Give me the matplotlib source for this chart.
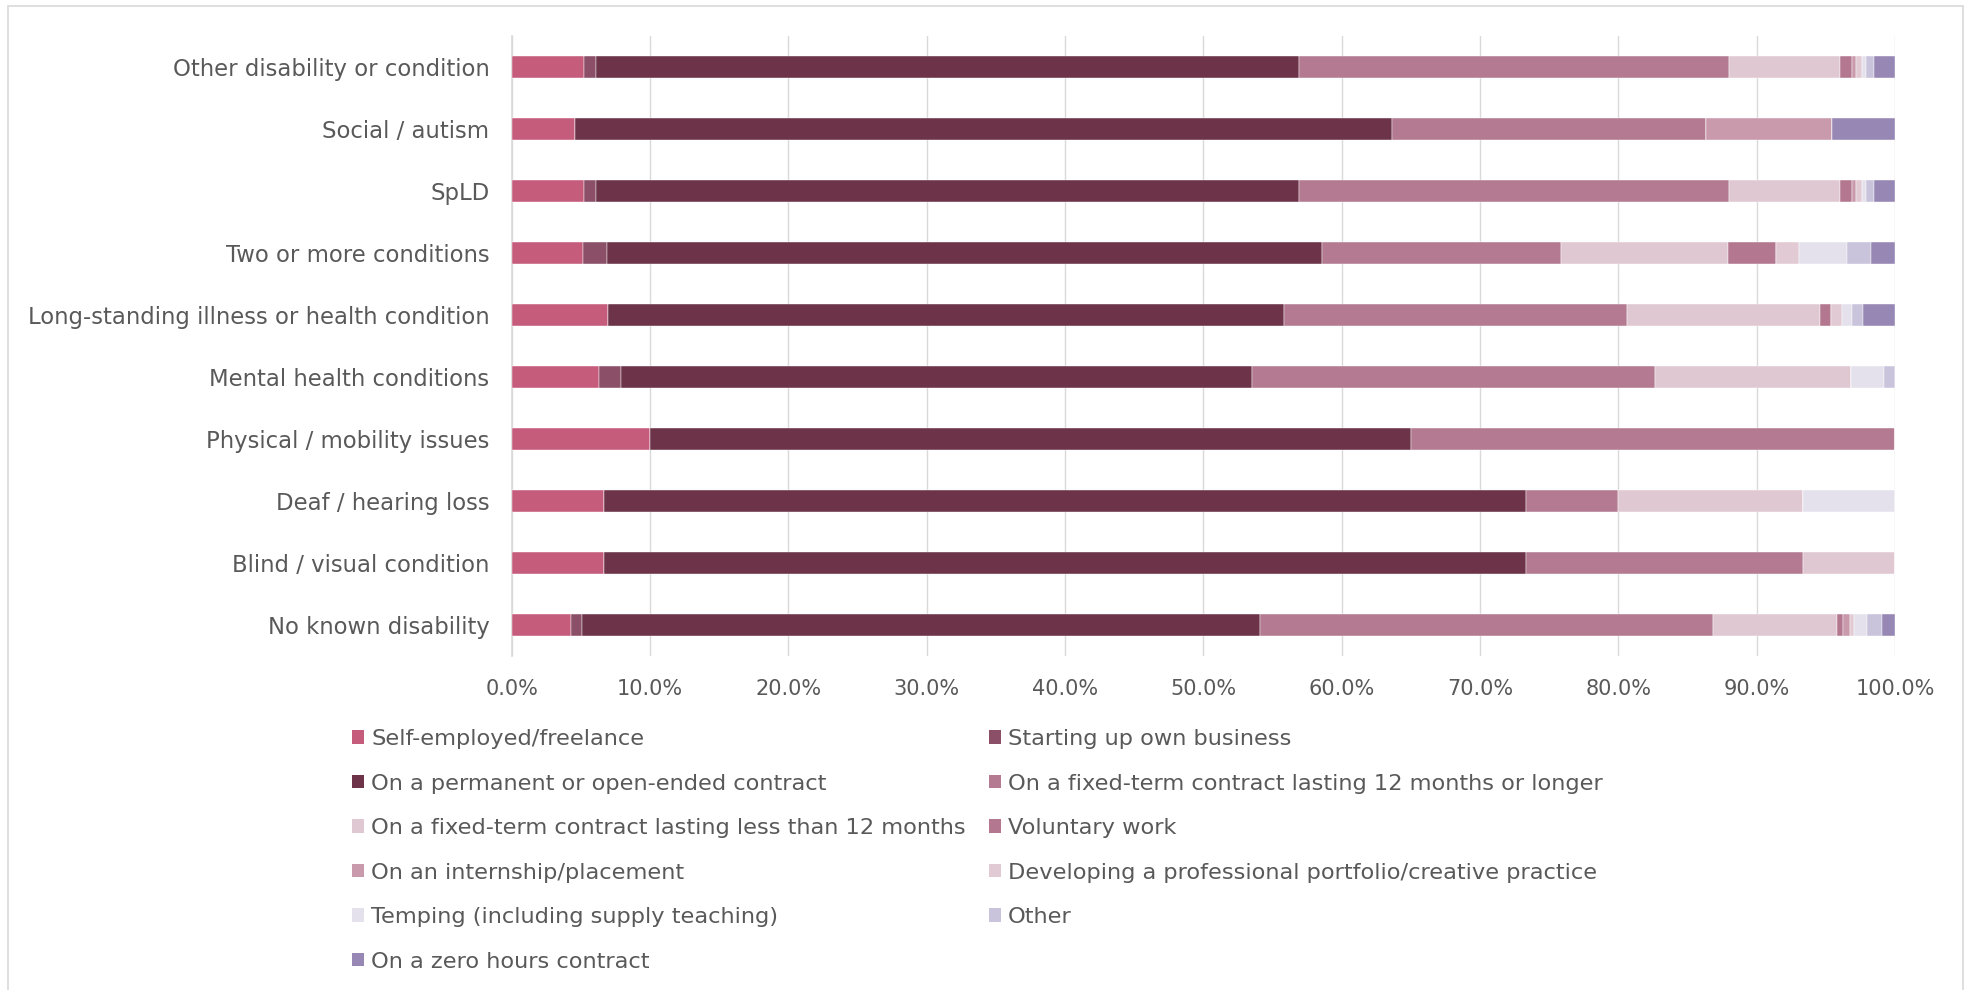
import matplotlib
matplotlib.use("Agg")
import matplotlib.pyplot as plt
from matplotlib.patches import Patch, Rectangle
import numpy as np

plt.rcParams['font.family'] = ['DejaVu Sans']

categories = [
    "Other disability or condition",
    "Social / autism",
    "SpLD",
    "Two or more conditions",
    "Long-standing illness or health condition",
    "Mental health conditions",
    "Physical / mobility issues",
    "Deaf / hearing loss",
    "Blind / visual condition",
    "No known disability",
]

series_names = [
    "Self-employed/freelance",
    "Starting up own business",
    "On a permanent or open-ended contract",
    "On a fixed-term contract lasting 12 months or longer",
    "On a fixed-term contract lasting less than 12 months",
    "Voluntary work",
    "On an internship/placement",
    "Developing a professional portfolio/creative practice",
    "Temping (including supply teaching)",
    "Other",
    "On a zero hours contract",
]

# percentage shares per category (same order as categories)
self_employed = [5.23, 4.55, 5.23, 5.17, 6.98, 6.30, 10.0, 6.67, 6.67, 4.31]
starting_up   = [0.90, 0.0, 0.90, 1.72, 0.0, 1.57, 0.0, 0.0, 0.0, 0.80]
permanent     = [50.77, 59.09, 50.77, 51.72, 48.84, 45.67, 55.0, 66.67, 66.67, 48.95]
fixed_12plus  = [31.10, 22.73, 31.10, 17.24, 24.81, 29.13, 35.0, 6.67, 20.0, 32.75]
fixed_under12 = [8.00, 0.0, 8.00, 12.07, 13.95, 14.17, 0.0, 13.33, 6.67, 9.00]
voluntary     = [0.90, 0.0, 0.90, 3.45, 0.78, 0.0, 0.0, 0.0, 0.0, 0.45]
internship    = [0.30, 9.09, 0.30, 0.0, 0.0, 0.0, 0.0, 0.0, 0.0, 0.50]
portfolio     = [0.40, 0.0, 0.40, 1.72, 0.78, 0.0, 0.0, 0.0, 0.0, 0.30]
temping       = [0.30, 0.0, 0.30, 3.45, 0.78, 2.36, 0.0, 6.67, 0.0, 0.90]
other         = [0.60, 0.0, 0.60, 1.72, 0.78, 0.79, 0.0, 0.0, 0.0, 1.10]
zero_hours    = [1.50, 4.55, 1.50, 1.72, 2.33, 0.0, 0.0, 0.0, 0.0, 0.94]

series_values = [self_employed, starting_up, permanent, fixed_12plus, fixed_under12,
                 voluntary, internship, portfolio, temping, other, zero_hours]

colors = ["#c55c7c", "#8c4f68", "#6c3349", "#b37a91", "#e0c8d2", "#b3788f",
          "#c99aab", "#e2cad4", "#e4e1ec", "#c9c3dc", "#9687b4"]

W, H = 1968, 990
fig = plt.figure(figsize=(W / 100, H / 100), dpi=100)
fig.patch.set_facecolor("white")

# outer chart frame
fig.patches.append(Rectangle((8 / W, -0.01), (1963 - 8) / W, 1 - 6 / H + 0.01,
                             transform=fig.transFigure, fill=False,
                             edgecolor="#d9d9d9", linewidth=1.2, zorder=0))

ax = fig.add_axes([511.7 / W, 1 - 656 / H, (1895 - 511.7) / W, (656 - 36) / H])

y = np.arange(len(categories))
left = np.zeros(len(categories))
for name, vals, col in zip(series_names, series_values, colors):
    vals = np.array(vals)
    ax.barh(y, vals, left=left, height=0.35, color=col, label=name,
            edgecolor="white", linewidth=0.3, zorder=3)
    left += vals

ax.set_xlim(0, 100)
ax.set_ylim(len(categories) - 0.5, -0.5)
ax.set_yticks(y)
ax.set_yticklabels(categories)
ax.set_xticks(np.arange(0, 101, 10))
ax.set_xticklabels([f"{v:.1f}%" for v in np.arange(0, 101, 10)])

text_color = "#595959"
ax.tick_params(axis="y", length=0, pad=16, labelsize=16.4, labelcolor=text_color)
ax.tick_params(axis="x", length=0, pad=16.5, labelsize=15, labelcolor=text_color)

ax.grid(axis="x", color="#d9d9d9", linewidth=1.0, zorder=0)
for s in ["top", "right", "bottom"]:
    ax.spines[s].set_visible(False)
ax.spines["left"].set_color("#d9d9d9")
ax.spines["left"].set_linewidth(1.2)

handles = [Patch(facecolor=c, edgecolor="none") for c in colors]
col1 = [0, 2, 4, 6, 8, 10]
col2 = [1, 3, 5, 7, 9]
for idx, xpos in ((col1, 352 / W), (col2, 989 / W)):
    leg = fig.legend([handles[i] for i in idx], [series_names[i] for i in idx],
                     loc="upper left", bbox_to_anchor=(xpos, 1 - 729 / H),
                     frameon=False, fontsize=16.2, handlelength=0.55, handleheight=0.55,
                     handletextpad=0.3, labelspacing=1.09, borderpad=0, borderaxespad=0)
    for t in leg.get_texts():
        t.set_color(text_color)

fig.savefig("out.png", dpi=100, facecolor="white")
